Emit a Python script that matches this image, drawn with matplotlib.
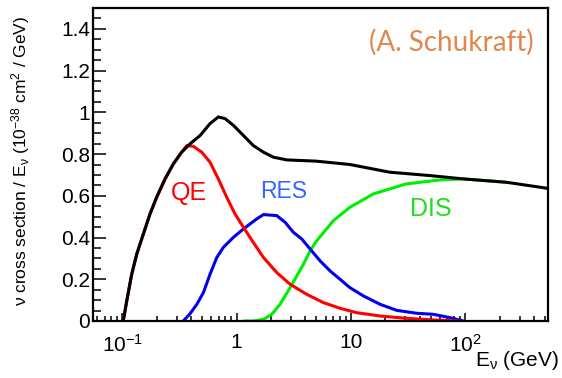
import matplotlib
matplotlib.use("Agg")
import matplotlib.pyplot as plt
from matplotlib.ticker import LogLocator, MultipleLocator, FixedLocator, FixedFormatter, NullFormatter

plt.rcParams['font.family'] = ['Liberation Sans', 'DejaVu Sans']
plt.rcParams['mathtext.fontset'] = 'custom'
plt.rcParams['mathtext.rm'] = 'Liberation Sans'
plt.rcParams['mathtext.it'] = 'Liberation Sans'
plt.rcParams['mathtext.bf'] = 'Liberation Sans:bold'

# Data (E in GeV, cross section / E in 1e-38 cm^2/GeV)
tot_E = [0.102, 0.1095, 0.121, 0.134, 0.153, 0.175, 0.200, 0.237, 0.280, 0.331,
         0.392, 0.480, 0.586, 0.693, 0.793, 0.938, 1.148, 1.40, 1.72, 2.10,
         2.75, 5.0, 9.8, 21.9, 49, 95.7, 228, 494, 530]
tot_y = [0.0, 0.096, 0.224, 0.321, 0.417, 0.513, 0.593, 0.681, 0.753, 0.809,
         0.849, 0.889, 0.946, 0.978, 0.970, 0.9375, 0.889, 0.841, 0.809, 0.785,
         0.772, 0.766, 0.75, 0.713, 0.697, 0.681, 0.665, 0.638, 0.635]

qe_E = [0.102, 0.1095, 0.121, 0.134, 0.153, 0.175, 0.200, 0.237, 0.280, 0.331,
        0.367, 0.419, 0.496, 0.586, 0.693, 0.820, 0.97, 1.148, 1.40, 1.72,
        2.25, 2.94, 4.11, 5.75, 8.04, 11.2, 18.0, 30.4, 52.7, 89]
qe_y = [0.0, 0.096, 0.224, 0.321, 0.417, 0.513, 0.593, 0.681, 0.753, 0.809,
        0.841, 0.837, 0.809, 0.761, 0.681, 0.593, 0.513, 0.449, 0.377, 0.304,
        0.232, 0.176, 0.128, 0.088, 0.061, 0.04, 0.024, 0.013, 0.005, 0.0]

res_E = [0.342, 0.392, 0.449, 0.513, 0.586, 0.671, 0.767, 0.938, 1.148, 1.50,
         1.72, 2.25, 2.66, 3.14, 3.72, 4.40, 5.38, 6.58, 8.04, 9.8,
         12.9, 18.0, 25.2, 37.7, 52.7, 73.8, 96.5]
res_y = [0.0, 0.035, 0.08, 0.136, 0.224, 0.304, 0.353, 0.401, 0.441, 0.489,
         0.51, 0.505, 0.473, 0.425, 0.393, 0.345, 0.288, 0.240, 0.2, 0.16,
         0.12, 0.08, 0.051, 0.037, 0.032, 0.016, 0.0]

dis_E = [1.148, 1.40, 1.72, 2.03, 2.40, 2.94, 3.36, 3.85, 4.40, 5.03,
         5.95, 7.03, 9.8, 15.7, 30.4, 60.3, 96.5, 228]
dis_y = [0.0, 0.0, 0.008, 0.032, 0.08, 0.16, 0.216, 0.272, 0.337, 0.385,
         0.433, 0.481, 0.545, 0.609, 0.657, 0.676, 0.681, 0.665]

xtick_vals = [0.1, 1, 10, 100]
xtick_labels = [r'$10^{-1}$', '1', '10', r'$10^{2}$']
ytick_vals = [0, 0.2, 0.4, 0.6, 0.8, 1.0, 1.2, 1.4]
ytick_labels = ['0', '0.2', '0.4', '0.6', '0.8', '1', '1.2', '1.4']

fig = plt.figure(figsize=(5.62, 3.78), dpi=100)
ax = fig.add_axes([93/562, 1 - 321/378, (548-93)/562, (321-8)/378])

lw = 2.2
ax.plot(dis_E, dis_y, color='#00ee00', lw=lw, solid_capstyle='butt', solid_joinstyle='round')
ax.plot(res_E, res_y, color='#0000ee', lw=lw, solid_capstyle='butt', solid_joinstyle='round')
ax.plot(qe_E, qe_y, color='#ff0000', lw=lw, solid_capstyle='butt', solid_joinstyle='round')
ax.plot(tot_E, tot_y, color='black', lw=lw, solid_capstyle='butt', solid_joinstyle='round')

ax.set_xscale('log')
ax.set_xlim(0.0555, 530)
ax.set_ylim(0, 1.5)

ax.xaxis.set_major_locator(FixedLocator(xtick_vals))
ax.xaxis.set_major_formatter(FixedFormatter(xtick_labels))
ax.xaxis.set_minor_locator(LogLocator(base=10, subs=range(2, 10)))
ax.xaxis.set_minor_formatter(NullFormatter())
ax.yaxis.set_major_locator(FixedLocator(ytick_vals))
ax.yaxis.set_major_formatter(FixedFormatter(ytick_labels))
ax.yaxis.set_minor_locator(MultipleLocator(0.05))

for s in ax.spines.values():
    s.set_linewidth(1.6)

ax.tick_params(axis='x', which='major', direction='in', length=6, width=1.1,
               labelsize=15, pad=9, top=False)
ax.tick_params(axis='x', which='minor', direction='in', length=3.6, width=1.1, top=False)
ax.tick_params(axis='y', which='major', direction='in', length=9.5, width=1.1,
               labelsize=15, pad=2, right=False)
ax.tick_params(axis='y', which='minor', direction='in', length=5.5, width=1.1, right=False)

ax.set_ylabel('\u03bd cross section / E$_{\u03bd}$ (10$^{-38}$ cm$^{2}$ / GeV)', fontsize=12.5)
ax.yaxis.set_label_coords(-0.133, 0.51)
ax.set_xlabel('E$_{\u03bd}$ (GeV)', fontsize=15, ha='right', va='center')
ax.xaxis.set_label_coords(1.024, -0.127)

ax.text(0.384, 0.612, 'QE', color='#ff0000', fontsize=18, ha='center', va='center')
ax.text(2.6, 0.622, 'RES', color='#3366ff', fontsize=16.5, ha='center', va='center')
ax.text(50, 0.537, 'DIS', color='#22dd22', fontsize=18, ha='center', va='center')

ax.text(0.968, 0.889, '(A. Schukraft)', color='#e0884f', fontsize=20,
        family=['Lato', 'DejaVu Sans'], ha='right', va='center', transform=ax.transAxes)

fig.savefig('out.png', dpi=100)
